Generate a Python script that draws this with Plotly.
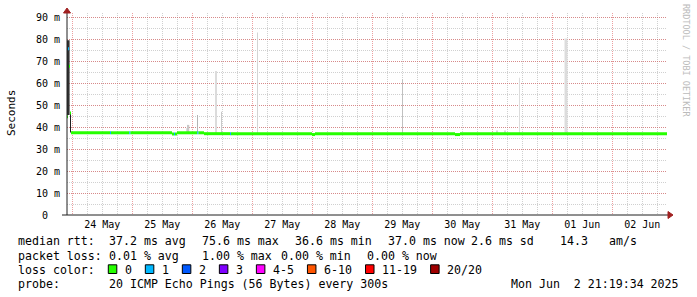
import plotly.graph_objects as go

# ---------------- data ----------------
x_start = "2025-05-23 21:53"
x_end = "2025-06-02 21:53"

# median rtt (ms) as segments: start, end, value, lost pings
seg_start = ["2025-05-23 21:53", "2025-05-23 22:17", "2025-05-23 22:41", "2025-05-23 23:05",
             "2025-05-23 23:29", "2025-05-24 15:05", "2025-05-24 15:29", "2025-05-24 22:48",
             "2025-05-24 23:12", "2025-05-25 15:53", "2025-05-25 16:41", "2025-05-25 17:05",
             "2025-05-25 17:53", "2025-05-26 02:00", "2025-05-26 02:24", "2025-05-26 04:41",
             "2025-05-26 15:05", "2025-05-26 15:29", "2025-05-27 23:53", "2025-05-28 01:05",
             "2025-05-30 09:05", "2025-05-30 11:05"]
seg_end = ["2025-05-23 22:17", "2025-05-23 22:41", "2025-05-23 23:05", "2025-05-23 23:29",
           "2025-05-24 15:05", "2025-05-24 15:29", "2025-05-24 22:48", "2025-05-24 23:12",
           "2025-05-25 15:53", "2025-05-25 16:41", "2025-05-25 17:05", "2025-05-25 17:53",
           "2025-05-26 02:00", "2025-05-26 02:24", "2025-05-26 04:41", "2025-05-26 15:05",
           "2025-05-26 15:29", "2025-05-27 23:53", "2025-05-28 01:05", "2025-05-30 09:05",
           "2025-05-30 11:05", "2025-06-02 21:53"]
seg_median = [44.7, 75.6, 67.7, 46.4, 37.4, 37.4, 37.4, 37.4, 37.4, 36.8, 36.8, 36.8,
              37.4, 37.4, 37.4, 37.0, 37.0, 37.0, 36.6, 37.0, 36.6, 37.0]
seg_loss = [0, 1, 0, 0, 0, 1, 0, 1, 0, 0, 1, 0, 0, 1, 0, 0, 1, 0, 0, 0, 0, 0]

# smoke (spread of the pings, ms)
smoke_time = ["2025-05-23 22:24", "2025-05-23 23:17", "2025-05-25 22:00", "2025-05-25 22:29",
              "2025-05-26 02:05", "2025-05-26 09:29", "2025-05-26 11:41", "2025-05-27 02:05",
              "2025-05-29 12:05", "2025-05-31 01:53", "2025-05-31 05:05", "2025-05-31 10:53",
              "2025-06-01 05:29"]
smoke_lo = [45.5, 37.5, 37.6, 37.6, 37.6, 37.2, 37.2, 37.0, 37.0, 37.0, 37.0, 37.0, 37.0]
smoke_hi = [79.5, 46.4, 39.5, 41.0, 45.5, 65.5, 47.0, 83.0, 61.8, 38.4, 38.4, 62.4, 80.3]

# loss legend
loss_labels = ["0", "1", "2", "3", "4-5", "6-10", "11-19", "20/20"]
loss_colors = ["#26ff00", "#00b8ff", "#0059ff", "#7f00ff", "#ff00ff", "#ff5500", "#ff0000", "#a00000"]

y_tick_vals = [0, 10, 20, 30, 40, 50, 60, 70, 80, 90]
y_tick_text = ["0\u00a0\u00a0", "10 m", "20 m", "30 m", "40 m", "50 m", "60 m", "70 m", "80 m", "90 m"]

row_rtt = [("median rtt:", 16), ("37.2 ms avg", 107.3), ("75.6 ms max", 200), ("36.6 ms min", 293.3),
           ("37.0 ms now", 385.7), ("2.6 ms sd", 469.3), ("14.3", 558.3), ("am/s", 606.7)]
row_loss = [("packet loss:", 16), ("0.01 % avg", 107.3), ("1.00 % max", 200), ("0.00 % min", 279.3),
            ("0.00 % now", 365)]
row_probe = [("probe:", 16), ("20 ICMP Echo Pings (56 Bytes) every 300s", 107.3)]
stamp = "Mon Jun  2 21:19:34 2025"

# ---------------- style / geometry ----------------
W, H = 697, 297
L, R, T, B = 67, 30, 13, 82
PW, PH = W - L - R, H - T - B
PX_MS = 24 * 60 * 1000  # one pixel = 24 minutes
MONO = "DejaVu Sans Mono"
smoke_shade = ["#303030", "#202020", "#d0d0d0", "#c8c8c8", "#b4b4b4", "#dcdcdc", "#c8c8c8",
               "#d4d4d4", "#c0c0c0", "#d8d8d8", "#d8d8d8", "#dcdcdc", "#dcdcdc"]
smoke_wpx = [2.6, 1, 2, 1.5, 1, 2, 1, 1, 1, 1, 1, 1, 3]


def px(x):
    return (x - L) / PW


def py(y):
    return (H - B - y) / PH


fig = go.Figure()

fig.add_trace(go.Bar(
    x=smoke_time, base=smoke_lo, y=[h - l for h, l in zip(smoke_hi, smoke_lo)],
    width=[w * PX_MS for w in smoke_wpx], marker=dict(color=smoke_shade, line=dict(width=0)),
    hoverinfo="skip", showlegend=False))

for li, col in enumerate(loss_colors):
    xs, ys = [], []
    for s, e, v, l in zip(seg_start, seg_end, seg_median, seg_loss):
        if l == li:
            xs += [s, e, None]
            ys += [v, v, None]
    if xs:
        fig.add_trace(go.Scatter(x=xs, y=ys, mode="lines", line=dict(color=col, width=3),
                                 hoverinfo="skip", showlegend=False, connectgaps=False))

major = "rgba(220,80,80,0.55)"
minor = "rgba(150,150,150,0.45)"
dash = "1px,1px"

fig.update_layout(
    width=W, height=H, margin=dict(l=L, r=R, t=T, b=B, pad=0),
    paper_bgcolor="white", plot_bgcolor="white", barmode="overlay",
    font=dict(family=MONO, size=10, color="#000"),
    xaxis=dict(type="date", range=[x_start, x_end], tick0="2025-05-24", dtick=86400000,
               tickformat="%d %b", ticklabelmode="period", showgrid=True, gridcolor=major,
               griddash=dash, gridwidth=1, ticks="", showline=False, zeroline=False,
               ticklabelstandoff=2,
               tickfont=dict(family=MONO, size=10, color="#000"),
               minor=dict(dtick=21600000, showgrid=True, gridcolor=minor, griddash=dash, gridwidth=1)),
    yaxis=dict(range=[0, 91.9], tickvals=y_tick_vals, ticktext=y_tick_text, showgrid=True,
               gridcolor=major, griddash=dash, gridwidth=1, ticks="", showline=False, zeroline=False,
               ticklabelstandoff=6, tickfont=dict(family=MONO, size=10, color="#000"),
               minor=dict(dtick=5, showgrid=True, gridcolor=minor, griddash=dash, gridwidth=1)),
)

shapes = []
# axes
shapes.append(dict(type="line", xref="paper", yref="paper", x0=0, x1=0, y0=0, y1=1,
                   line=dict(color="#202020", width=1)))
shapes.append(dict(type="line", xref="paper", yref="paper", x0=px(62), x1=px(669), y0=0, y1=0,
                   line=dict(color="#202020", width=1)))
# arrows
shapes.append(dict(type="path", xref="paper", yref="paper", xsizemode="pixel", ysizemode="pixel",
                   xanchor=0, yanchor=1, path="M -3.5,0 L 3.5,0 L 0,5 Z",
                   fillcolor="#a02020", line=dict(color="#a02020", width=1)))
shapes.append(dict(type="path", xref="paper", yref="paper", xsizemode="pixel", ysizemode="pixel",
                   xanchor=px(668), yanchor=0, path="M 0,-3.5 L 0,3.5 L 5,0 Z",
                   fillcolor="#a02020", line=dict(color="#a02020", width=1)))

ann = []
FS = 11.6


def text(s, x, y, size=FS, color="#000", angle=0, xanchor="left", yanchor="middle"):
    ann.append(dict(text=s.replace(" ", "\u00a0"), x=px(x), y=py(y), xref="paper", yref="paper",
                    showarrow=False, xanchor=xanchor, yanchor=yanchor, textangle=angle,
                    font=dict(family=MONO, size=size, color=color)))


for s, x in row_rtt:
    text(s, x, 241.5)
for s, x in row_loss:
    text(s, x, 255.5)
text("loss color:", 16, 269.5)
for s, x in row_probe:
    text(s, x, 283.5)
text(stamp, 681, 283.5, xanchor="right")

sx = 108.3
for lab, col in zip(loss_labels, loss_colors):
    shapes.append(dict(type="rect", xref="paper", yref="paper", x0=px(sx), x1=px(sx + 8.5),
                       y0=py(273.5), y1=py(264.8), fillcolor=col, line=dict(color="#000", width=1)))
    text(lab, sx + 14.5, 269.5)
    sx += 15 + len(lab) * 7.02 + 15

text("Seconds", 11, 113, size=11, angle=-90, xanchor="center")
text("RRDTOOL / TOBI OETIKER", 686, 60, size=8.5, color="#bbbbbb", angle=90, xanchor="center")

fig.update_layout(shapes=shapes, annotations=ann)
fig.write_html("out.html")
